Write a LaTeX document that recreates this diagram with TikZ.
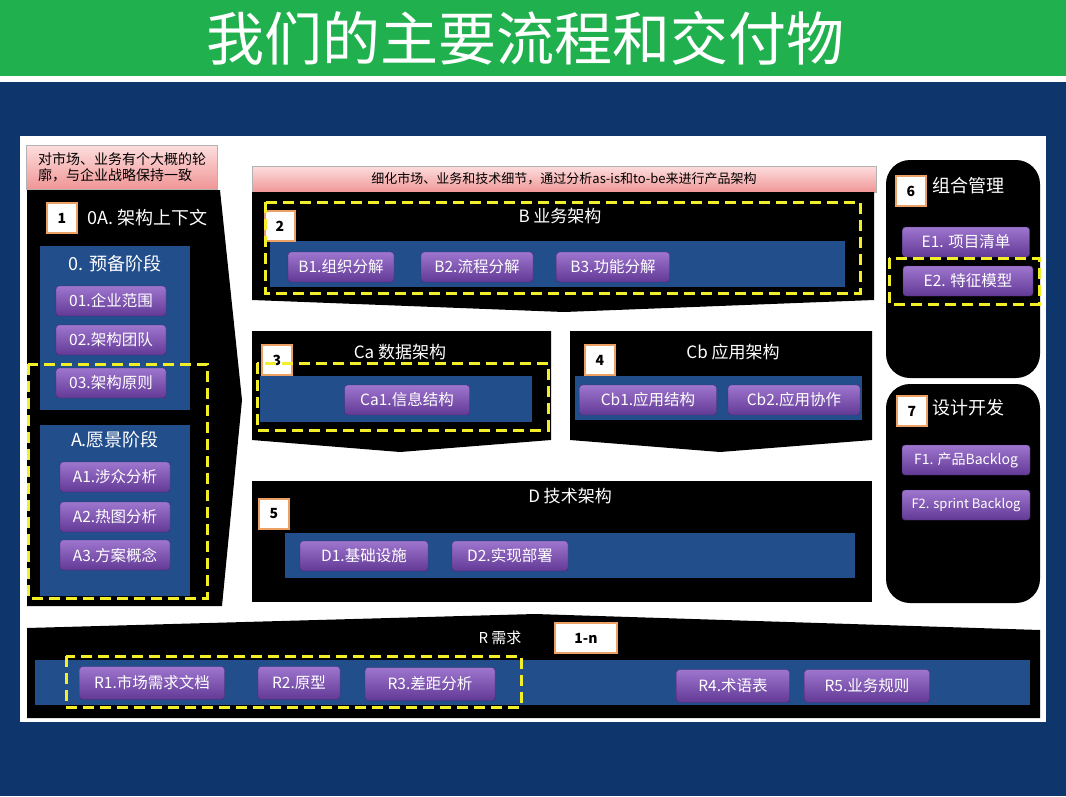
\documentclass[tikz,border=0pt]{standalone}
\usepackage{fontspec}
\setmainfont{Noto Sans CJK SC}
\definecolor{titlegreen}{RGB}{32,176,78}
\definecolor{navy}{RGB}{14,54,108}
\definecolor{panelblue}{RGB}{34,78,140}
\definecolor{btntop}{RGB}{158,118,206}
\definecolor{btnbot}{RGB}{98,58,150}
\definecolor{notetop}{RGB}{253,222,222}
\definecolor{notebot}{RGB}{240,150,150}
\definecolor{badgeedge}{RGB}{236,160,100}
\definecolor{dashyellow}{RGB}{242,238,40}
\tikzset{
  btn/.style={draw=btnbot!70!black, rounded corners=3pt, top color=btntop, bottom color=btnbot,
    text=white, font=\fontsize{15.5}{15.5}\selectfont, minimum height=30pt, inner sep=2pt},
  badge/.style={draw=badgeedge, line width=2.5pt, fill=white, text=black,
    font=\bfseries\fontsize{14}{14}\selectfont, minimum width=30pt, minimum height=30pt, inner sep=0pt},
  note/.style={draw=gray!60, top color=notetop, bottom color=notebot, text=black,
    font=\fontsize{13}{15}\selectfont, inner sep=2pt},
  hilite/.style={draw=dashyellow, line width=3pt, dash pattern=on 11pt off 6pt},
  head/.style={text=white, font=\fontsize{17}{17}\selectfont},
}
\begin{document}
\begin{tikzpicture}[x=1pt, y=-1pt]
  \useasboundingbox (0,0) rectangle (1066,796);
  % background
  \fill[navy] (0,0) rectangle (1066,796);
  \fill[titlegreen] (0,0) rectangle (1066,76);
  \fill[white] (0,76) rectangle (1066,82);
  \node[text=white, font=\fontsize{58}{58}\selectfont] (title) at (525,38) {我们的主要流程和交付物};
  \fill[white] (20,136) rectangle (1046,722);

  % column 1
  \node[note, minimum width=191pt, minimum height=44pt, align=left, font=\fontsize{14}{16}\selectfont] (note1) at (122,167)
    {对市场、业务有个大概的轮\\廓，与企业战略保持一致};
  \fill[black] (27,190) -- (220,190) -- (242,400) -- (222,606) -- (27,606) -- cycle;
  \node[badge] (b1) at (62,218) {1};
  \node[head, font=\fontsize{18}{18}\selectfont, anchor=west] (h1) at (84,218) {0A. 架构上下文};
  \fill[panelblue] (40,246) rectangle (190,410);
  \node[head, font=\fontsize{18}{18}\selectfont] (h0) at (115,264) {0. 预备阶段};
  \node[btn, minimum width=110pt] (o1) at (111,301) {01.企业范围};
  \node[btn, minimum width=110pt] (o2) at (111,340) {02.架构团队};
  \node[btn, minimum width=110pt] (o3) at (111,383) {03.架构原则};
  \fill[panelblue] (40,425) rectangle (190,596);
  \node[head, font=\fontsize{18}{18}\selectfont] (hA) at (115,440) {A.愿景阶段};
  \node[btn, minimum width=110pt] (a1) at (115,477) {A1.涉众分析};
  \node[btn, minimum width=110pt] (a2) at (115,517) {A2.热图分析};
  \node[btn, minimum width=110pt] (a3) at (115,555) {A3.方案概念};
  \draw[hilite] (28,364) rectangle (207,598);

  % B
  \node[note, minimum width=624pt, minimum height=26pt] (note2) at (564,179)
    {细化市场、业务和技术细节，通过分析as-is和to-be来进行产品架构};
  \fill[black] (252,192) -- (874,192) -- (874,300) -- (564,312) -- (252,300) -- cycle;
  \fill[panelblue] (270,241) rectangle (845,287);
  \node[head] (hB) at (560,216) {B 业务架构};
  \node[btn, minimum width=106pt] (bb1) at (341,267) {B1.组织分解};
  \node[btn, minimum width=112pt] (bb2) at (477,267) {B2.流程分解};
  \node[btn, minimum width=113pt] (bb3) at (613,267) {B3.功能分解};
  \node[badge] (b2) at (280,226) {2};
  \draw[hilite] (265,202) rectangle (860,293);

  % Ca
  \fill[black] (252,331) -- (551,331) -- (551,440) -- (400,452) -- (252,440) -- cycle;
  \fill[panelblue] (260,376) rectangle (532,422);
  \node[head] (hCa) at (400,352) {Ca 数据架构};
  \node[btn, minimum width=125pt] (ca1) at (407,400) {Ca1.信息结构};
  \node[badge] (b3) at (277,360) {3};
  \draw[hilite] (257,363) rectangle (548,430);

  % Cb
  \fill[black] (570,331) -- (872,331) -- (872,440) -- (720,452) -- (570,440) -- cycle;
  \fill[panelblue] (575,376) rectangle (862,420);
  \node[head] (hCb) at (733,352) {Cb 应用架构};
  \node[badge] (b4) at (600,360) {4};
  \node[btn, minimum width=137pt] (cb1) at (648,400) {Cb1.应用结构};
  \node[btn, minimum width=132pt] (cb2) at (794,400) {Cb2.应用协作};

  % D
  \fill[black] (252,481) rectangle (872,602);
  \fill[panelblue] (285,533) rectangle (855,578);
  \node[head] (hD) at (570,496) {D 技术架构};
  \node[badge] (b5) at (274,514) {5};
  \node[btn, minimum width=128pt] (d1) at (364,556) {D1.基础设施};
  \node[btn, minimum width=116pt] (d2) at (510,556) {D2.实现部署};

  % E
  \fill[black, rounded corners=24pt] (886,160) rectangle (1040,378);
  \node[badge] (b6) at (911,191) {6};
  \node[head, font=\fontsize{18}{18}\selectfont, anchor=west] (hE) at (929,186) {组合管理};
  \node[btn, minimum width=127pt] (e1) at (966,242) {E1. 项目清单};
  \node[btn, minimum width=130pt] (e2) at (968,281) {E2. 特征模型};
  \draw[hilite] (889,258) rectangle (1039,304);

  % F
  \fill[black, rounded corners=24pt] (886,384) rectangle (1040,603);
  \node[badge] (b7) at (912,411) {7};
  \node[head, font=\fontsize{18}{18}\selectfont, anchor=west] (hF) at (929,408) {设计开发};
  \node[btn, minimum width=128pt, font=\fontsize{14}{14}\selectfont] (f1) at (966,460) {F1. 产品Backlog};
  \node[btn, minimum width=128pt, font=\fontsize{13}{13}\selectfont] (f2) at (966,505) {F2. sprint Backlog};

  % R
  \fill[black] (27,628) -- (535,614) -- (1040,630) -- (1040,718) -- (27,718) -- cycle;
  \fill[panelblue] (35,660) rectangle (1030,705);
  \node[head, font=\fontsize{15}{15}\selectfont] (hR) at (500,638) {R 需求};
  \node[badge, minimum width=62pt] (bn) at (586,638) {1-n};
  \node[btn, minimum width=145pt, minimum height=33pt] (r1) at (152,683) {R1.市场需求文档};
  \node[btn, minimum width=82pt, minimum height=33pt] (r2) at (299,683) {R2.原型};
  \node[btn, minimum width=130pt, minimum height=33pt] (r3) at (430,684) {R3.差距分析};
  \node[btn, minimum width=113pt, minimum height=33pt] (r4) at (733,686) {R4.术语表};
  \node[btn, minimum width=125pt, minimum height=33pt] (r5) at (867,686) {R5.业务规则};
  \draw[hilite] (66,656) rectangle (521,707);
\end{tikzpicture}
\end{document}
